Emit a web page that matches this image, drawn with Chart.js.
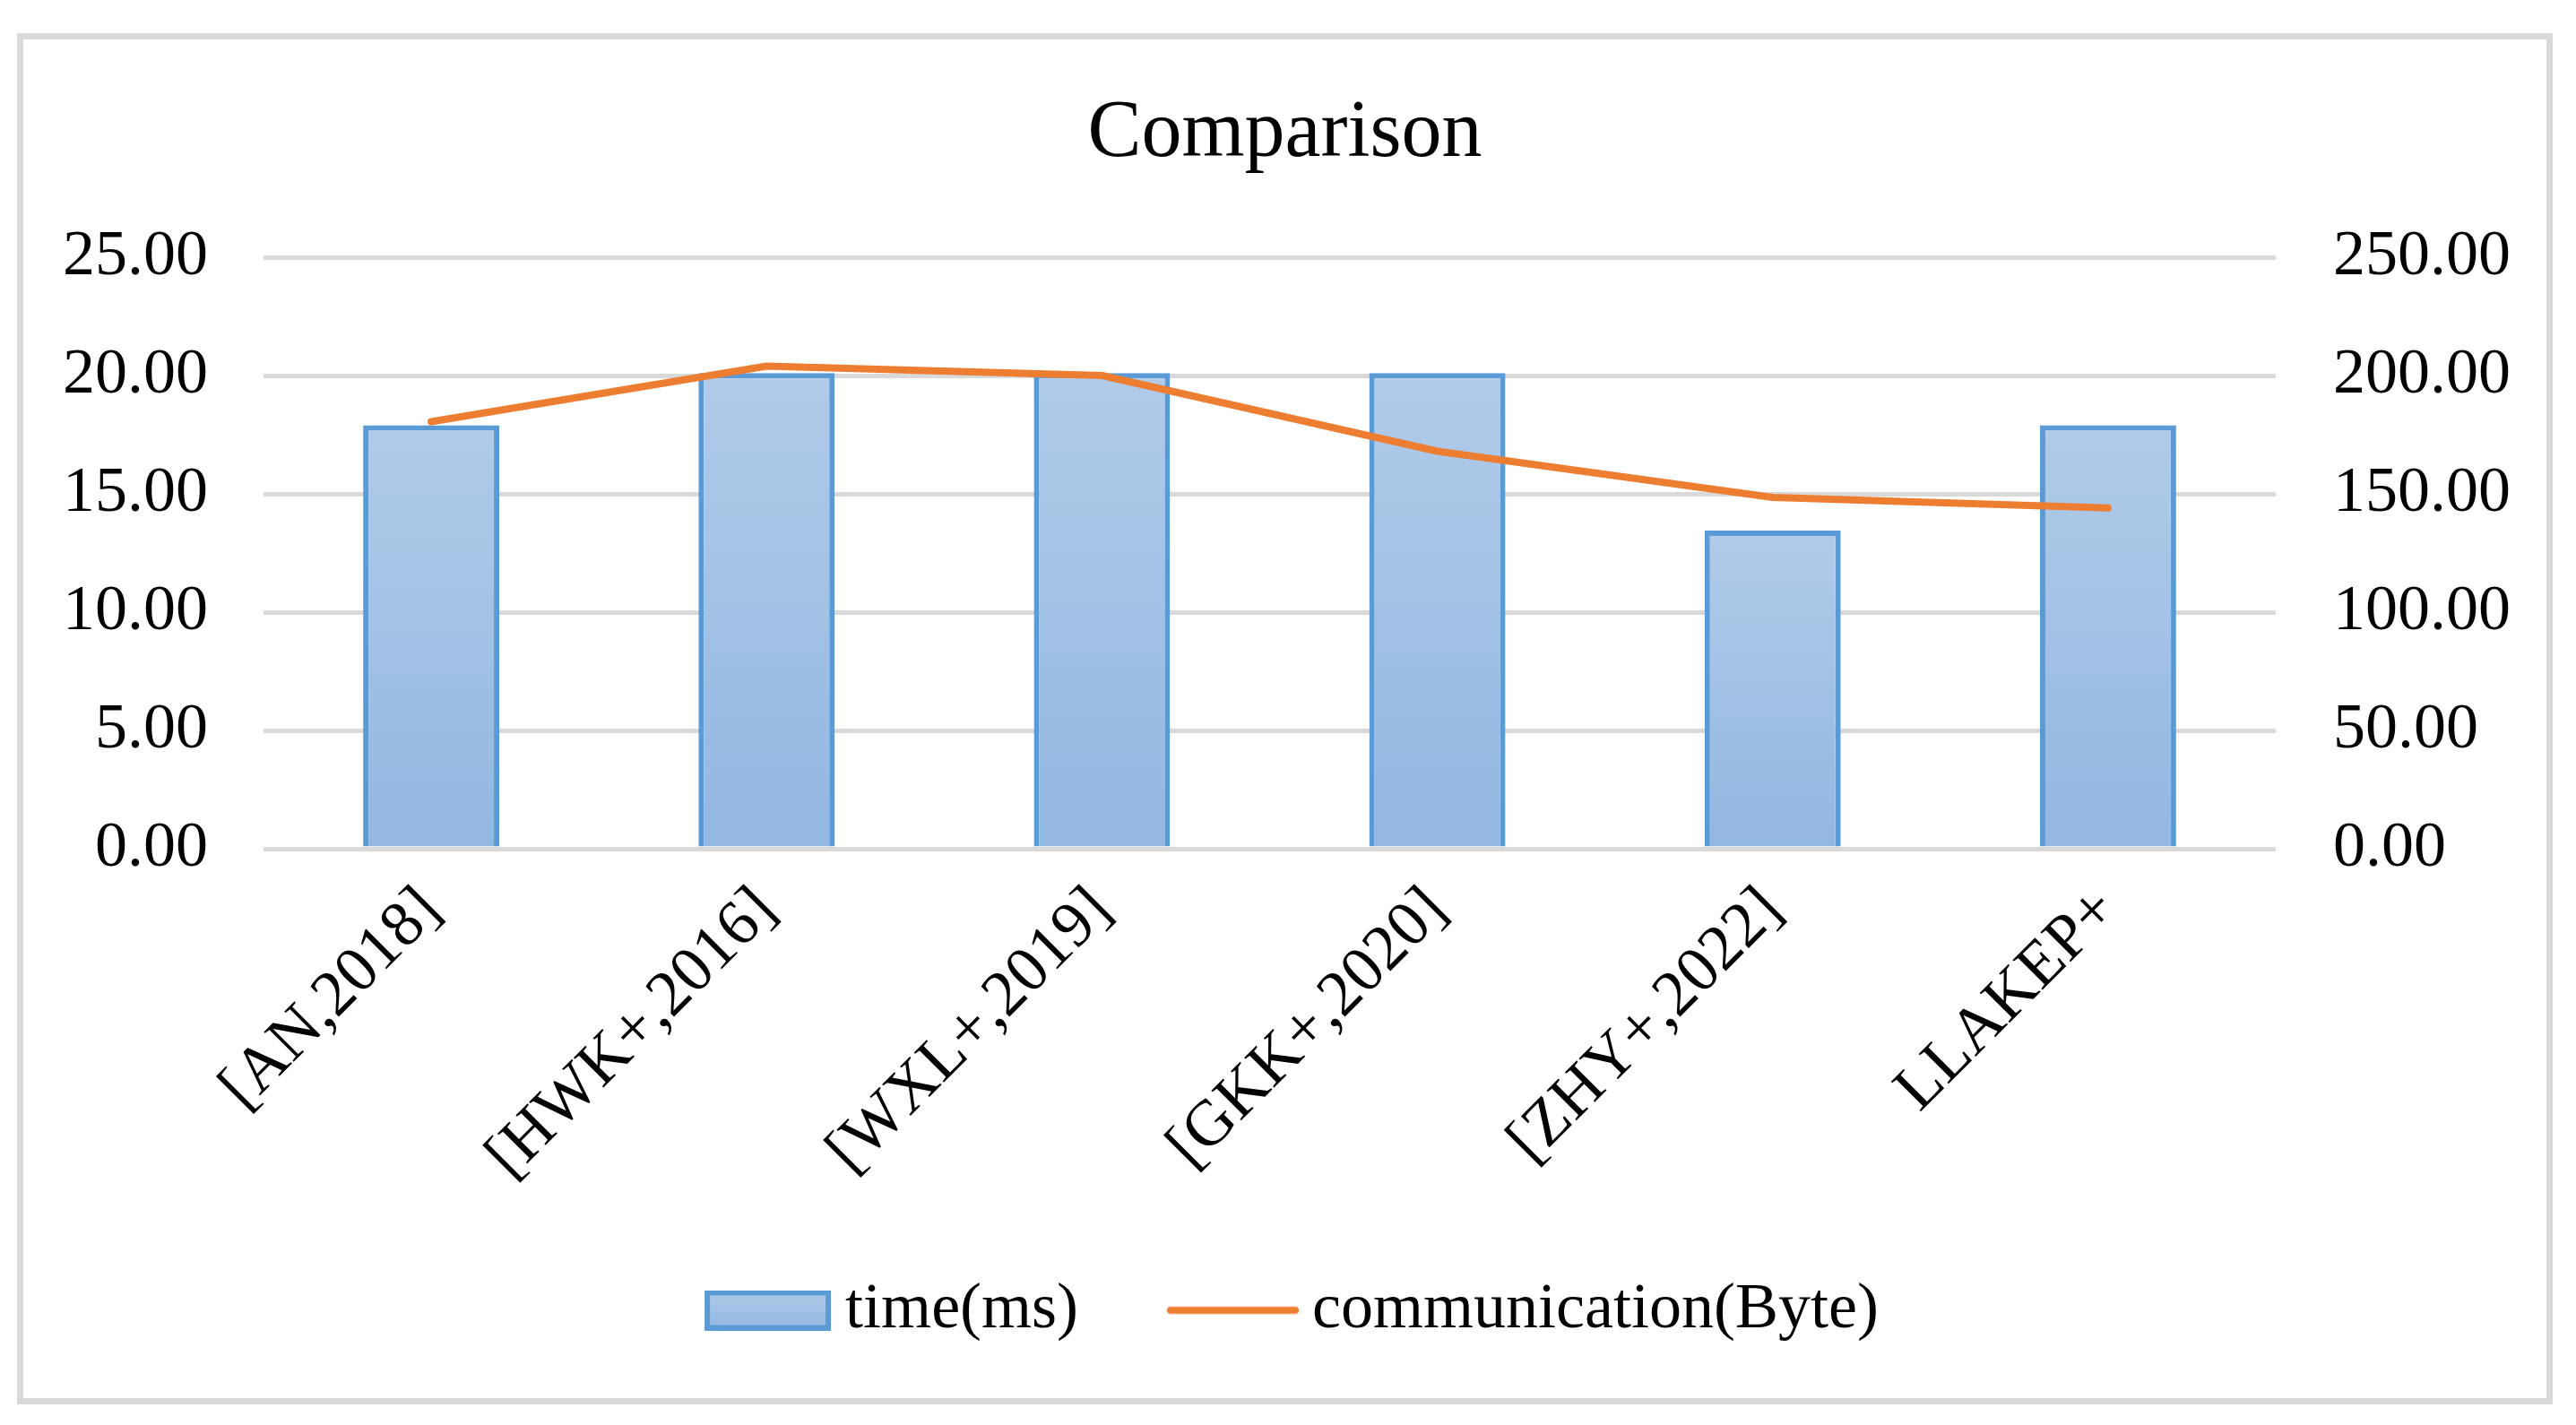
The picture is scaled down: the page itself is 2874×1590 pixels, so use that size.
<!DOCTYPE html>
<html>
<head>
<meta charset="utf-8">
<title>Comparison</title>
<script src="https://cdn.jsdelivr.net/npm/chart.js@4.4.1/dist/chart.umd.min.js"></script>
<style>
  html, body { margin: 0; padding: 0; background: #ffffff; }
  #wrap {
    position: absolute; left: 19px; top: 37px;
    width: 2829px; height: 1530px;
    box-sizing: border-box; border: 7px solid #d9d9d9; background: #fff;
  }
</style>
</head>
<body>
<div id="wrap"><canvas id="myChart"></canvas></div>
<script>
// data
const categories = ['[AN,2018]', '[HWK+,2016]', '[WXL+,2019]', '[GKK+,2020]', '[ZHY+,2022]', 'LLAKEP+'];
const timeMs = [17.9, 20.1, 20.1, 20.1, 13.45, 17.9];
const commBytes = [180.5, 204, 200, 168, 148.5, 144];
const leftTicks = [0, 5, 10, 15, 20, 25];
const rightTicks = [0, 50, 100, 150, 200, 250];

const ctx = document.getElementById('myChart');
const serif = "'Liberation Serif', 'Times New Roman', serif";
Chart.defaults.font.family = serif;
Chart.defaults.color = '#000000';

// gradient for each bar, light at top
function barFill(c) {
    const chart = c.chart;
    const ys = chart.scales.y;
    if (!chart.chartArea || !ys || c.parsed === undefined) return '#a2c0e5';
    const top = ys.getPixelForValue(c.parsed.y);
    const bottom = ys.getPixelForValue(0);
    const g = chart.ctx.createLinearGradient(0, top, 0, bottom);
    g.addColorStop(0, '#b1cbe9');
    g.addColorStop(1, '#92b7e1');
    return g;
}

// legend swatches (transparent on the left so the swatch sits next to its text)
function barSwatch() {
    const c = document.createElement('canvas');
    c.width = 176; c.height = 45;
    const g = c.getContext('2d');
    const gr = g.createLinearGradient(0, 0, 0, 45);
    gr.addColorStop(0, '#b1cbe9');
    gr.addColorStop(1, '#92b7e1');
    g.fillStyle = gr;
    g.fillRect(35, 0, 141, 45);
    g.strokeStyle = '#5b9bd5';
    g.lineWidth = 6;
    g.strokeRect(38, 3, 135, 39);
    return c;
}
function lineSwatch() {
    const c = document.createElement('canvas');
    c.width = 178; c.height = 45;
    const g = c.getContext('2d');
    g.strokeStyle = '#ed7d31';
    g.lineWidth = 8;
    g.lineCap = 'round';
    g.beginPath();
    g.moveTo(35, 22.5);
    g.lineTo(174, 22.5);
    g.stroke();
    return c;
}
const swatches = [barSwatch(), lineSwatch()];

const myChart = new Chart(ctx, {
    type: 'bar',
    data: {
        labels: categories,
        datasets: [{
            type: 'bar',
            label: 'time(ms)',
            data: timeMs,
            yAxisID: 'y',
            backgroundColor: barFill,
            borderColor: '#5b9bd5',
            borderWidth: 6,
            barPercentage: 1,
            categoryPercentage: 0.406,
            order: 1
        }, {
            type: 'line',
            label: 'communication(Byte)',
            data: commBytes,
            yAxisID: 'y1',
            borderColor: '#ed7d31',
            backgroundColor: '#ed7d31',
            borderWidth: 8,
            borderCapStyle: 'round',
            borderJoinStyle: 'round',
            pointRadius: 0,
            tension: 0,
            fill: false,
            order: 0
        }]
    },
    options: {
        responsive: true,
        maintainAspectRatio: false,
        animation: false,
        layout: { padding: { left: 29, right: 29, top: 0, bottom: 52 } },
        plugins: {
            title: {
                display: true,
                text: 'Comparison',
                color: '#000',
                font: { size: 90, weight: 'normal', family: serif },
                padding: { top: 52, bottom: 83 }
            },
            legend: {
                position: 'bottom',
                labels: {
                    usePointStyle: true,
                    pointStyleWidth: 136,
                    boxHeight: 45,
                    padding: 89,
                    color: '#000',
                    font: { size: 72, family: serif },
                    generateLabels: function(chart) {
                        const items = Chart.defaults.plugins.legend.labels.generateLabels(chart);
                        items.sort((a, b) => a.datasetIndex - b.datasetIndex);
                        items.forEach(it => { it.pointStyle = swatches[it.datasetIndex]; });
                        return items;
                    }
                }
            },
            tooltip: { enabled: false }
        },
        scales: {
            x: {
                grid: { display: false, drawTicks: false },
                border: { display: false },
                ticks: {
                    autoSkip: false,
                    minRotation: 45,
                    maxRotation: 45,
                    padding: 27,
                    color: '#000',
                    font: { size: 72, family: serif }
                },
                afterFit: function(s) { s.height = 390; }
            },
            y: {
                position: 'left',
                min: leftTicks[0],
                max: leftTicks[leftTicks.length - 1],
                grid: { color: '#d9d9d9', lineWidth: 5, drawTicks: false },
                border: { display: false },
                ticks: {
                    stepSize: leftTicks[1] - leftTicks[0],
                    padding: 62,
                    color: '#000',
                    font: { size: 72, family: serif },
                    callback: v => Number(v).toFixed(2)
                },
                afterFit: function(s) { s.width = 239; }
            },
            y1: {
                position: 'right',
                min: rightTicks[0],
                max: rightTicks[rightTicks.length - 1],
                grid: { display: false, drawTicks: false },
                border: { display: false },
                ticks: {
                    stepSize: rightTicks[1] - rightTicks[0],
                    padding: 64,
                    color: '#000',
                    font: { size: 72, family: serif },
                    callback: v => Number(v).toFixed(2)
                },
                afterFit: function(s) { s.width = 273; }
            }
        }
    }
});
</script>
</body>
</html>
